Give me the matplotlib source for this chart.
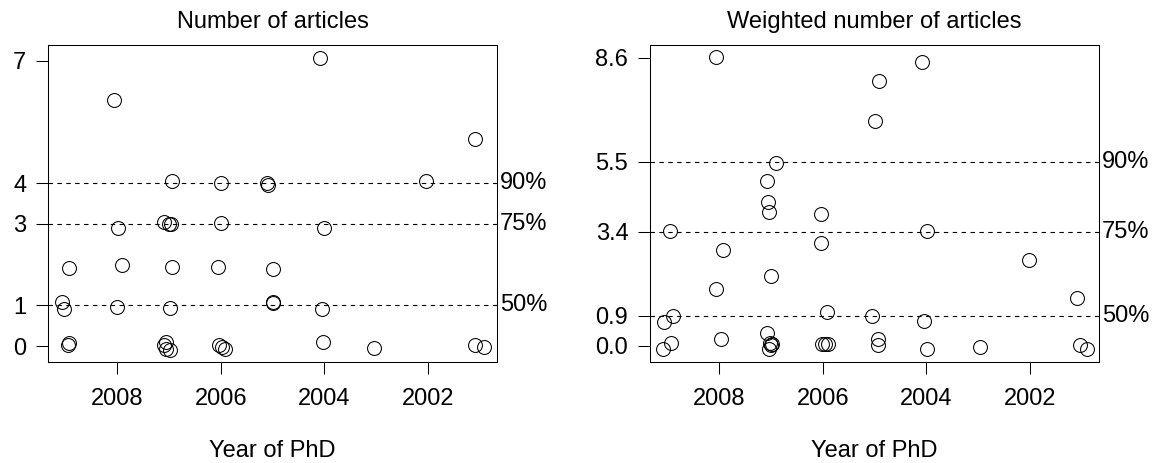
import matplotlib
matplotlib.use("Agg")
import matplotlib.pyplot as plt
from matplotlib.ticker import FixedLocator

plt.rcParams['font.family'] = ['Liberation Sans', 'DejaVu Sans']

# jittered year of PhD and counts
year_n = [2008.06, 2006.94, 2005.99, 2005.11, 2005.08, 2007.98, 2007.10, 2007.00,
          2006.97, 2005.99, 2008.94, 2007.91, 2006.95, 2006.05, 2004.99, 2009.07,
          2009.03, 2008.00, 2006.99, 2005.00, 2004.99, 2008.93, 2008.96, 2007.06,
          2007.10, 2007.05, 2006.99, 2006.03, 2005.97, 2005.91, 2004.08, 2001.09,
          2002.04, 2004.00, 2004.05, 2004.03, 2003.04, 2001.09, 2000.92]
articles = [6.04, 4.05, 4.01, 4.00, 3.96, 2.90, 3.04, 3.00,
            3.00, 3.03, 1.92, 1.98, 1.95, 1.93, 1.90, 1.08,
            0.92, 0.95, 0.94, 1.08, 1.06, 0.07, 0.02, 0.10,
            0.02, -0.06, -0.10, 0.02, -0.02, -0.06, 7.07, 5.08,
            4.04, 2.90, 0.90, 0.09, -0.04, 0.02, -0.02]

year_w = [2008.07, 2006.90, 2007.08, 2007.06, 2007.04, 2006.04, 2008.95, 2007.92,
          2006.04, 2007.00, 2008.06, 2005.91, 2008.90, 2009.07, 2007.08, 2007.97,
          2008.94, 2009.08, 2007.02, 2006.98, 2007.04, 2007.00, 2006.02, 2005.96,
          2005.89, 2004.09, 2004.91, 2005.00, 2003.99, 2002.01, 2001.09, 2005.05,
          2004.05, 2004.93, 2004.94, 2003.99, 2002.97, 2001.02, 2000.89]
weighted = [8.63, 5.47, 4.91, 4.28, 4.01, 3.93, 3.42, 2.87,
            3.08, 2.09, 1.70, 1.00, 0.88, 0.72, 0.39, 0.20,
            0.08, -0.10, 0.10, 0.07, -0.08, 0.04, 0.05, 0.05,
            0.07, 8.47, 7.90, 6.71, 3.42, 2.56, 1.44, 0.88,
            0.74, 0.20, 0.02, -0.08, -0.03, 0.02, -0.08]

q_labels = ['50%', '75%', '90%']
q_n = [1, 3, 4]
q_w = [0.9, 3.4, 5.5]
yticks_n = [0, 1, 3, 4, 7]
yticks_w = [0.0, 0.9, 3.4, 5.5, 8.6]
xticks = [2008, 2006, 2004, 2002]

fig = plt.figure(figsize=(11.57, 4.63), dpi=100)
ax1 = fig.add_axes([48/1157, 101/463, 449/1157, 317/463])
ax2 = fig.add_axes([650/1157, 101/463, 449/1157, 317/463])


def panel(ax, x, y, q, yt, ylim, title, fmt):
    ax.plot(x, y, 'o', ms=10, mfc='none', mec='black', mew=0.75)
    for v, lab in zip(q, q_labels):
        ax.axhline(v, color='black', lw=0.8, ls=(0, (4, 4)))
        ax.text(1.006, v, lab, transform=ax.get_yaxis_transform(),
                va='center', ha='left', fontsize=17)
    ax.set_xlim(2009.34, 2000.66)
    ax.set_ylim(*ylim)
    ax.xaxis.set_major_locator(FixedLocator(xticks))
    ax.yaxis.set_major_locator(FixedLocator(yt))
    ax.set_yticklabels([fmt.format(v) for v in yt])
    ax.tick_params(direction='out', length=8.6, width=0.75, labelsize=17)
    ax.tick_params(axis='x', pad=10)
    ax.tick_params(axis='y', pad=7)
    for s in ax.spines.values():
        s.set_linewidth(0.75)
    ax.set_title(title, fontsize=17, pad=12)
    ax.set_xlabel('Year of PhD', fontsize=17, labelpad=22)


panel(ax1, year_n, articles, q_n, yticks_n, (-0.39, 7.39), 'Number of articles', '{:g}')
panel(ax2, year_w, weighted, q_w, yticks_w, (-0.48, 8.98), 'Weighted number of articles', '{:.1f}')

fig.savefig('out.png', dpi=100)
